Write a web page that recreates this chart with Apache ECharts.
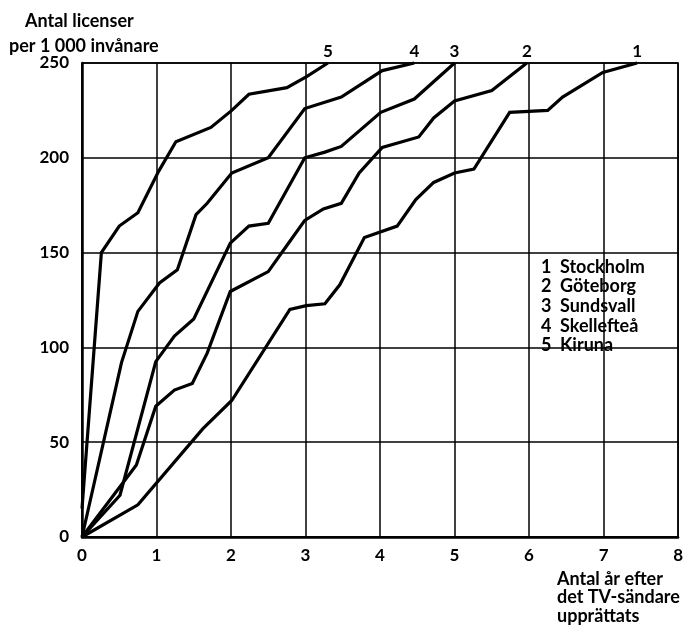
<!DOCTYPE html>
<html><head><meta charset="utf-8">
<script src="https://cdn.jsdelivr.net/npm/echarts@6/dist/echarts.min.js"></script>
<style>html,body{margin:0;padding:0;background:#fff}#c{width:686px;height:625px}</style>
</head><body><div id="c"></div>
<script>
const cityNames = ['Stockholm', 'Göteborg', 'Sundsvall', 'Skellefteå', 'Kiruna'];
const cityNumbers = ['1', '2', '3', '4', '5'];

// [years after transmitter, licences per 1000 inhabitants]
const stockholm = [[0,0],[0.75,17],[1.62,57],[2.01,72],[2.79,120],[3.01,122],[3.26,123],[3.46,133],[3.79,158],[4.23,164],[4.48,178],[4.72,187],[5.0,192],[5.26,194],[5.74,224],[6.25,225],[6.45,232],[6.99,245],[7.45,250]];
const goteborg = [[0,0],[0.73,38],[0.99,69],[1.24,77.5],[1.48,81],[1.68,97],[1.99,129.5],[2.5,140],[2.79,156],[2.99,167],[3.24,173],[3.48,176],[3.72,192],[4.03,205.5],[4.52,211],[4.72,221],[5.0,230],[5.5,235.5],[5.97,250]];
const sundsvall = [[0,0],[0.51,22],[0.99,92.5],[1.24,106],[1.5,115],[1.99,155],[2.24,164],[2.5,165.5],[2.99,200],[3.26,203],[3.48,206],[4.01,224],[4.46,231],[5.0,250]];
const skelleftea = [[0,0],[0.53,92],[0.75,119],[1.04,134],[1.28,141],[1.53,170],[1.68,176],[2.01,192],[2.5,200],[2.99,226],[3.48,232],[4.03,246],[4.46,250]];
const kiruna = [[0,15],[0.26,150],[0.5,164],[0.75,171],[1.03,193],[1.26,208.5],[1.73,216],[2.01,225],[2.24,233.5],[2.75,237],[3.02,243],[3.3,250]];

const xMin = 0, xMax = 8, xStep = 1;
const yMin = 0, yMax = 250, yStep = 50;
const yTitle = ['Antal licenser', 'per 1 000 invånare'];
const xTitle = ['Antal år efter', 'det TV-sändare', 'upprättats'];

const FONT = 'Lato';
const seriesData = [stockholm, goteborg, sundsvall, skelleftea, kiruna];
const endLabelOffset = [[0,0],[0,0],[0,0],[4,0],[1,0]];

function buildData(arr, num, off) {
  return arr.map((p, i) => i === arr.length - 1
    ? { value: p, label: { show: true, formatter: num, position: 'top', distance: 3, offset: off,
        color: '#000', fontFamily: FONT, fontWeight: 'bold', fontSize: 17 } }
    : p);
}

const chart = echarts.init(document.getElementById('c'), null, { renderer: 'canvas' });
const graphics = [];
yTitle.forEach((t, i) => graphics.push({
  type: 'text', left: i === 0 ? 25 : 9, top: i === 0 ? 12 : 37,
  style: { text: t, fill: '#000', font: 'bold 18px ' + FONT }
}));
xTitle.forEach((t, i) => graphics.push({
  type: 'text', left: 557, top: 570 + i * 18.5,
  style: { text: t, fill: '#000', font: 'bold 18px ' + FONT }
}));
cityNames.forEach((n, i) => {
  graphics.push({ type: 'text', left: 541, top: 258 + i * 19.6,
    style: { text: cityNumbers[i], fill: '#000', font: 'bold 18px ' + FONT } });
  graphics.push({ type: 'text', left: 560, top: 258 + i * 19.6,
    style: { text: n, fill: '#000', font: 'bold 18px ' + FONT } });
});

chart.setOption({
  animation: false,
  backgroundColor: '#fff',
  grid: { left: 82, top: 63, right: 3, bottom: 88, show: true, borderColor: '#000', borderWidth: 1.5, containLabel: false },
  xAxis: {
    type: 'value', min: xMin, max: xMax, interval: xStep,
    axisLine: { show: true, lineStyle: { color: '#000', width: 2.5 } },
    axisTick: { show: false },
    splitLine: { show: true, lineStyle: { color: '#000', width: 1.5 } },
    axisLabel: { color: '#000', fontFamily: FONT, fontWeight: 'bold', fontSize: 17, margin: 10 }
  },
  yAxis: {
    type: 'value', min: yMin, max: yMax, interval: yStep,
    axisLine: { show: true, lineStyle: { color: '#000', width: 2.5 } },
    axisTick: { show: false },
    splitLine: { show: true, lineStyle: { color: '#000', width: 1.5 } },
    axisLabel: { color: '#000', fontFamily: FONT, fontWeight: 'bold', fontSize: 17, margin: 13 }
  },
  graphic: graphics,
  series: seriesData.map((d, i) => ({
    type: 'line', name: cityNames[i], data: buildData(d, cityNumbers[i], endLabelOffset[i]),
    showSymbol: true, symbol: 'circle', symbolSize: 0, clip: false,
    itemStyle: { color: '#000' },
    lineStyle: { color: '#000', width: 3.2, join: 'miter' },
    labelLayout: { hideOverlap: false },
    z: 5
  }))
});
</script></body></html>
